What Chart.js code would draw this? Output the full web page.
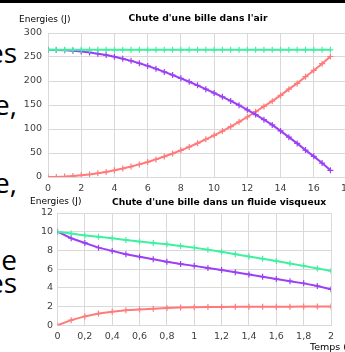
<!DOCTYPE html>
<html>
<head>
<meta charset="utf-8">
<script src="https://cdn.jsdelivr.net/npm/chart.js@4.4.0/dist/chart.umd.min.js"></script>
<style>
  html, body { margin: 0; padding: 0; background: #fff; overflow: hidden; width: 345px; height: 352px; }
  #bar { position: absolute; left: 0; top: 0; width: 345px; height: 3px; background: #000; }
  .frag { position: absolute; right: 328px; font-family: "Open Sans"; font-size: 28px; line-height: 28px; color: #000; white-space: nowrap; }
  canvas { position: absolute; left: 0; }
</style>
</head>
<body>
<div id="bar"></div>
<div class="frag" style="top:38px">es</div>
<div class="frag" style="top:90px">e,</div>
<div class="frag" style="top:168px">e,</div>
<div class="frag" style="top:245px">le</div>
<div class="frag" style="top:268px">es</div>
<canvas id="air" width="360" height="196" style="top:0"></canvas>
<canvas id="fluide" width="345" height="156" style="top:196px"></canvas>
<script>
// Chute dans l'air
const tAir = [0, 0.5, 1, 1.5, 2, 2.5, 3, 3.5, 4, 4.5, 5, 5.5, 6, 6.5, 7, 7.5, 8, 8.5,
  9, 9.5, 10, 10.5, 11, 11.5, 12, 12.5, 13, 13.5, 14, 14.5, 15, 15.5, 16, 16.5, 17];
const emAir = [265, 265, 265, 265, 265, 265, 265, 265, 265, 265, 265, 265, 265, 265, 265, 265, 265, 265,
  265, 265, 265, 265, 265, 265, 265, 265, 265, 265, 265, 265, 265, 265, 265, 265, 265];
const epAir = [265, 264.8, 264.1, 263, 261.5, 259.5, 257, 254, 250.5, 246.5, 242, 237, 231.5, 225.5, 219, 212.5, 205.5, 198.5,
  191, 183, 175, 167, 158.5, 149.5, 140, 130, 119.5, 108.5, 96, 83, 70, 56, 43, 29, 14];
const ecAir = [0, 0.2, 0.9, 2, 3.5, 5.4, 7.8, 10.6, 13.9, 17.6, 21.7, 26.3, 31.3, 36.7, 42.6, 48.9, 55.6, 62.7,
  70.3, 78.4, 86.9, 95.7, 105, 115, 125, 136, 147, 158, 170, 183, 195, 209, 222, 236, 251];
const airXTicks = [0, 2, 4, 6, 8, 10, 12, 14, 16, 18];
const airYTicks = [0, 50, 100, 150, 200, 250, 300];

// Chute dans un fluide visqueux
const tFluide = [0, 0.1, 0.2, 0.3, 0.4, 0.5, 0.6, 0.7, 0.8, 0.9, 1, 1.1, 1.2, 1.3, 1.4, 1.5, 1.6, 1.7, 1.8, 1.9, 2];
const emFluide = [10, 9.8, 9.6, 9.45, 9.3, 9.12, 8.95, 8.8, 8.65, 8.48, 8.3, 8.08, 7.85, 7.6, 7.35, 7.1, 6.86, 6.6, 6.35, 6.08, 5.82];
const epFluide = [10, 9.3, 8.8, 8.3, 7.95, 7.6, 7.33, 7.05, 6.78, 6.56, 6.35, 6.12, 5.9, 5.67, 5.44, 5.19, 4.94, 4.71, 4.48, 4.2, 3.84];
const ecFluide = [0, 0.55, 0.95, 1.25, 1.45, 1.6, 1.7, 1.78, 1.85, 1.9, 1.93, 1.95, 1.96, 1.97, 1.98, 1.98, 1.99, 1.99, 2, 2, 2];
const fluideXTicks = [0, 0.2, 0.4, 0.6, 0.8, 1, 1.2, 1.4, 1.6, 1.8, 2];
const fluideYTicks = [0, 2, 4, 6, 8, 10, 12];

const green = '#40f0a0';
const purple = '#9b40f5';
const red = '#ff7b7b';
const gridColor = '#d9d9d9';
const tickColor = '#404040';
const tickFont = { family: 'DejaVu Sans', size: 9.5 };

const fmt = v => String(v).replace('.', ',');

function serie(xs, ys, color) {
  return {
    data: xs.map((x, i) => ({ x: x, y: ys[i] })),
    borderColor: color,
    backgroundColor: color,
    borderWidth: 2,
    pointStyle: 'cross',
    pointRadius: 3,
    pointBorderWidth: 1.2,
    tension: 0
  };
}

function axes(xTicks, yTicks, yWidth, xHeight, yPad) {
  return {
    x: {
      type: 'linear',
      min: xTicks[0],
      max: xTicks[xTicks.length - 1],
      afterBuildTicks: s => { s.ticks = xTicks.map(v => ({ value: v })); },
      afterFit: s => { s.height = xHeight; },
      grid: { color: gridColor, drawTicks: false },
      border: { color: gridColor },
      ticks: { color: tickColor, font: tickFont, padding: 6, maxRotation: 0, autoSkip: false, callback: v => fmt(v) }
    },
    y: {
      min: yTicks[0],
      max: yTicks[yTicks.length - 1],
      afterBuildTicks: s => { s.ticks = yTicks.map(v => ({ value: v })); },
      afterFit: s => { s.width = yWidth; },
      grid: { color: gridColor, drawTicks: false },
      border: { color: gridColor },
      ticks: { color: tickColor, font: tickFont, padding: yPad, autoSkip: false, callback: v => fmt(v) }
    }
  };
}

// textes libres : titre, unite des axes
const notes = {
  id: 'notes',
  afterDraw(chart, args, opts) {
    const c = chart.ctx;
    c.save();
    c.textBaseline = 'middle';
    opts.items.forEach(it => {
      c.font = it.font;
      c.fillStyle = '#000';
      c.textAlign = it.align;
      c.fillText(it.text, it.x, it.y);
    });
    c.restore();
  }
};

const regular = '9px "DejaVu Sans"';
const bold = 'bold 9.2px "DejaVu Sans"';

new Chart(document.getElementById('air'), {
  type: 'line',
  data: {
    datasets: [serie(tAir, emAir, green), serie(tAir, epAir, purple), serie(tAir, ecAir, red)]
  },
  options: {
    responsive: false,
    animation: false,
    layout: { padding: { top: 33, right: 13, bottom: 0, left: 0 } },
    scales: axes(airXTicks, airYTicks, 48, 19, 6),
    plugins: {
      legend: { display: false },
      tooltip: { enabled: false },
      notes: {
        items: [
          { text: 'Energies (J)', x: 19, y: 19.5, font: regular, align: 'left' },
          { text: "Chute d'une bille dans l'air", x: 198, y: 19, font: bold, align: 'center' }
        ]
      }
    }
  },
  plugins: [notes]
});

new Chart(document.getElementById('fluide'), {
  type: 'line',
  data: {
    datasets: [serie(tFluide, emFluide, green), serie(tFluide, epFluide, purple), serie(tFluide, ecFluide, red)]
  },
  options: {
    responsive: false,
    animation: false,
    layout: { padding: { top: 17, right: 14, bottom: 0, left: 0 } },
    scales: axes(fluideXTicks, fluideYTicks, 57.5, 26.7, 4.5),
    plugins: {
      legend: { display: false },
      tooltip: { enabled: false },
      notes: {
        items: [
          { text: 'Energies (J)', x: 30, y: 5.5, font: regular, align: 'left' },
          { text: "Chute d'une bille dans un fluide visqueux", x: 219, y: 6.5, font: bold, align: 'center' },
          { text: 'Temps (s)', x: 310, y: 152, font: '9.5px "DejaVu Sans"', align: 'left' }
        ]
      }
    }
  },
  plugins: [notes]
});
</script>
</body>
</html>
